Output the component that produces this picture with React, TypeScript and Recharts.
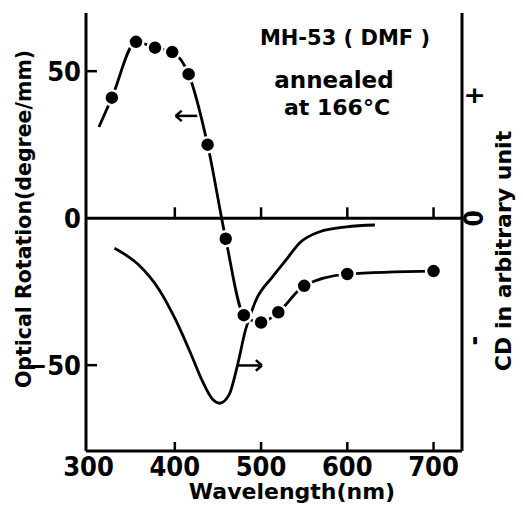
import React from 'react';
import { ComposedChart, Line, Scatter, XAxis, YAxis, ReferenceLine } from 'recharts';

// axis ticks
const xTicks = [300, 400, 500, 600, 700];
const leftTicks = [-50, 0, 50];
const rightTicks = [-1, 0, 1];
const rightTickText: Record<string, string> = { '-1': '-', '0': '0', '1': '+' };

// optical rotation (degree/mm), measured points
const ordNm = [327, 355, 377, 397, 416, 438, 459, 480, 500, 520, 550, 600, 700];
const ordVal = [41, 60, 58, 56.5, 49, 25, -7, -33, -35.5, -32, -23, -19, -18];
// where the drawn ORD curve starts, left of the first point
const ordStartNm = 312;
const ordStartVal = 31;

// CD curve, arbitrary unit
const cdNm = [330, 358, 382, 401, 420, 432, 444, 452, 463, 472, 482, 494, 513, 529, 545, 568, 599, 632];
const cdVal = [-0.245, -0.38, -0.585, -0.83, -1.13, -1.33, -1.48, -1.51, -1.44, -1.22, -0.91, -0.67, -0.48, -0.34, -0.2, -0.11, -0.07, -0.055];

const ordDots = ordNm.map((nm, i) => ({ nm, v: ordVal[i] }));
const ordCurve = [{ nm: ordStartNm, v: ordStartVal }, ...ordDots];
const cdCurve = cdNm.map((nm, i) => ({ nm, cd: cdVal[i] }));

const FONT = '"DejaVu Sans", sans-serif';
const NUM_FONT = '"Liberation Sans Narrow", "DejaVu Sans Condensed", sans-serif';

const BottomTick = (props: any) => {
  const { x, y, payload } = props;
  return (
    <g>
      {payload.value > 300 && <line x1={x} y1={y} x2={x} y2={y - 9} stroke="#000" strokeWidth={2.5} />}
      <text x={x} y={y + 25} textAnchor="middle" fontFamily={NUM_FONT} fontWeight="bold" fontSize={27} fill="#000">
        {payload.value}
      </text>
    </g>
  );
};

const LeftTick = (props: any) => {
  const { x, y, payload } = props;
  return (
    <g>
      {payload.value !== 0 && <line x1={x} y1={y} x2={x + 11} y2={y} stroke="#000" strokeWidth={2.5} />}
      <text x={x - 5} y={y} textAnchor="end" dominantBaseline="central" fontFamily={NUM_FONT} fontWeight="bold" fontSize={27} fill="#000">
        {payload.value === 0 ? '0' : payload.value < 0 ? '\u2212' + Math.abs(payload.value) : payload.value}
      </text>
    </g>
  );
};

const RightTick = (props: any) => {
  const { x, y, payload } = props;
  const tx = x + 12;
  return (
    <text
      x={tx}
      y={y}
      textAnchor="middle"
      dominantBaseline="central"
      transform={`rotate(-90 ${tx} ${y})`}
      fontFamily={NUM_FONT}
      fontWeight="bold"
      fontSize={26}
      fill="#000"
    >
      {rightTickText[String(payload.value)]}
    </text>
  );
};

const Dot = (props: any) => {
  const { cx, cy } = props;
  return <circle cx={cx} cy={cy} r={7.5} fill="#000" stroke="#fff" strokeWidth={2.5} />;
};

export default function App() {
  return (
    <div style={{ position: 'absolute', left: 0, top: 0, background: '#fff' }}>
      <ComposedChart width={523} height={506} margin={{ top: 13, right: 0, bottom: 0, left: 0 }}>
        <XAxis
          dataKey="nm"
          type="number"
          domain={[297, 733]}
          ticks={xTicks}
          allowDataOverflow
          height={55}
          axisLine={{ stroke: '#000', strokeWidth: 3 }}
          tickLine={false}
          tickSize={0}
          tickMargin={0}
          tick={<BottomTick />}
        />
        <XAxis
          xAxisId="top"
          orientation="top"
          type="number"
          domain={[297, 733]}
          allowDataOverflow
          height={0}
          tick={false}
          tickLine={false}
          axisLine={{ stroke: '#000', strokeWidth: 3 }}
        />
        <YAxis
          yAxisId="left"
          type="number"
          domain={[-79.2, 69.8]}
          ticks={leftTicks}
          allowDataOverflow
          width={86}
          axisLine={{ stroke: '#000', strokeWidth: 3 }}
          tickLine={false}
          tickSize={0}
          tickMargin={0}
          tick={<LeftTick />}
        />
        <YAxis
          yAxisId="right"
          orientation="right"
          type="number"
          domain={[-1.9, 1.676]}
          ticks={rightTicks}
          allowDataOverflow
          width={61}
          axisLine={{ stroke: '#000', strokeWidth: 3 }}
          tickLine={false}
          tickSize={0}
          tickMargin={0}
          tick={<RightTick />}
        />

        <ReferenceLine yAxisId="left" y={0} stroke="#000" strokeWidth={3} />
        {xTicks
          .filter((t) => t > 300)
          .map((t) => (
            <ReferenceLine
              key={'zt' + t}
              yAxisId="left"
              segment={[{ x: t, y: 0 }, { x: t, y: 3.7 }]}
              stroke="#000"
              strokeWidth={2.5}
            />
          ))}

        {/* arrows pointing to the axis each curve belongs to */}
        <ReferenceLine yAxisId="left" segment={[{ x: 401, y: 34.8 }, { x: 426, y: 34.8 }]} stroke="#000" strokeWidth={2.5} />
        <ReferenceLine yAxisId="left" segment={[{ x: 401, y: 34.8 }, { x: 408, y: 36.6 }]} stroke="#000" strokeWidth={2.5} />
        <ReferenceLine yAxisId="left" segment={[{ x: 401, y: 34.8 }, { x: 408, y: 33.0 }]} stroke="#000" strokeWidth={2.5} />
        <ReferenceLine yAxisId="left" segment={[{ x: 473, y: -50.1 }, { x: 501, y: -50.1 }]} stroke="#000" strokeWidth={2.5} />
        <ReferenceLine yAxisId="left" segment={[{ x: 501, y: -50.1 }, { x: 494, y: -48.3 }]} stroke="#000" strokeWidth={2.5} />
        <ReferenceLine yAxisId="left" segment={[{ x: 501, y: -50.1 }, { x: 494, y: -51.9 }]} stroke="#000" strokeWidth={2.5} />

        <Line
          yAxisId="right"
          data={cdCurve}
          dataKey="cd"
          type="monotone"
          stroke="#000"
          strokeWidth={2.8}
          dot={false}
          isAnimationActive={false}
        />
        <Line
          yAxisId="left"
          data={ordCurve}
          dataKey="v"
          type="monotone"
          stroke="#000"
          strokeWidth={2.8}
          dot={false}
          isAnimationActive={false}
        />
        <Scatter yAxisId="left" data={ordDots} dataKey="v" shape={<Dot />} isAnimationActive={false} />

        <text x={345} y={45} textAnchor="middle" fontFamily={FONT} fontWeight="bold" fontSize={21} fill="#000">
          MH-53 ( DMF )
        </text>
        <text x={334} y={88} textAnchor="middle" fontFamily={FONT} fontWeight="bold" fontSize={23} fill="#000">
          annealed
        </text>
        <text x={337} y={115} textAnchor="middle" fontFamily={FONT} fontWeight="bold" fontSize={22} fill="#000">
          at 166°C
        </text>
        <text x={292} y={499} textAnchor="middle" fontFamily={FONT} fontWeight="bold" fontSize={22} fill="#000">
          Wavelength(nm)
        </text>
        <text
          x={24}
          y={219}
          textAnchor="middle"
          dominantBaseline="central"
          transform="rotate(-90 24 219)"
          fontFamily={FONT}
          fontWeight="bold"
          fontSize={20.5}
          fill="#000"
        >
          Optical Rotation(degree/mm)
        </text>
        <text
          x={503}
          y={251}
          textAnchor="middle"
          dominantBaseline="central"
          transform="rotate(-90 503 251)"
          fontFamily={FONT}
          fontWeight="bold"
          fontSize={22}
          fill="#000"
        >
          CD in arbitrary unit
        </text>
      </ComposedChart>
    </div>
  );
}
